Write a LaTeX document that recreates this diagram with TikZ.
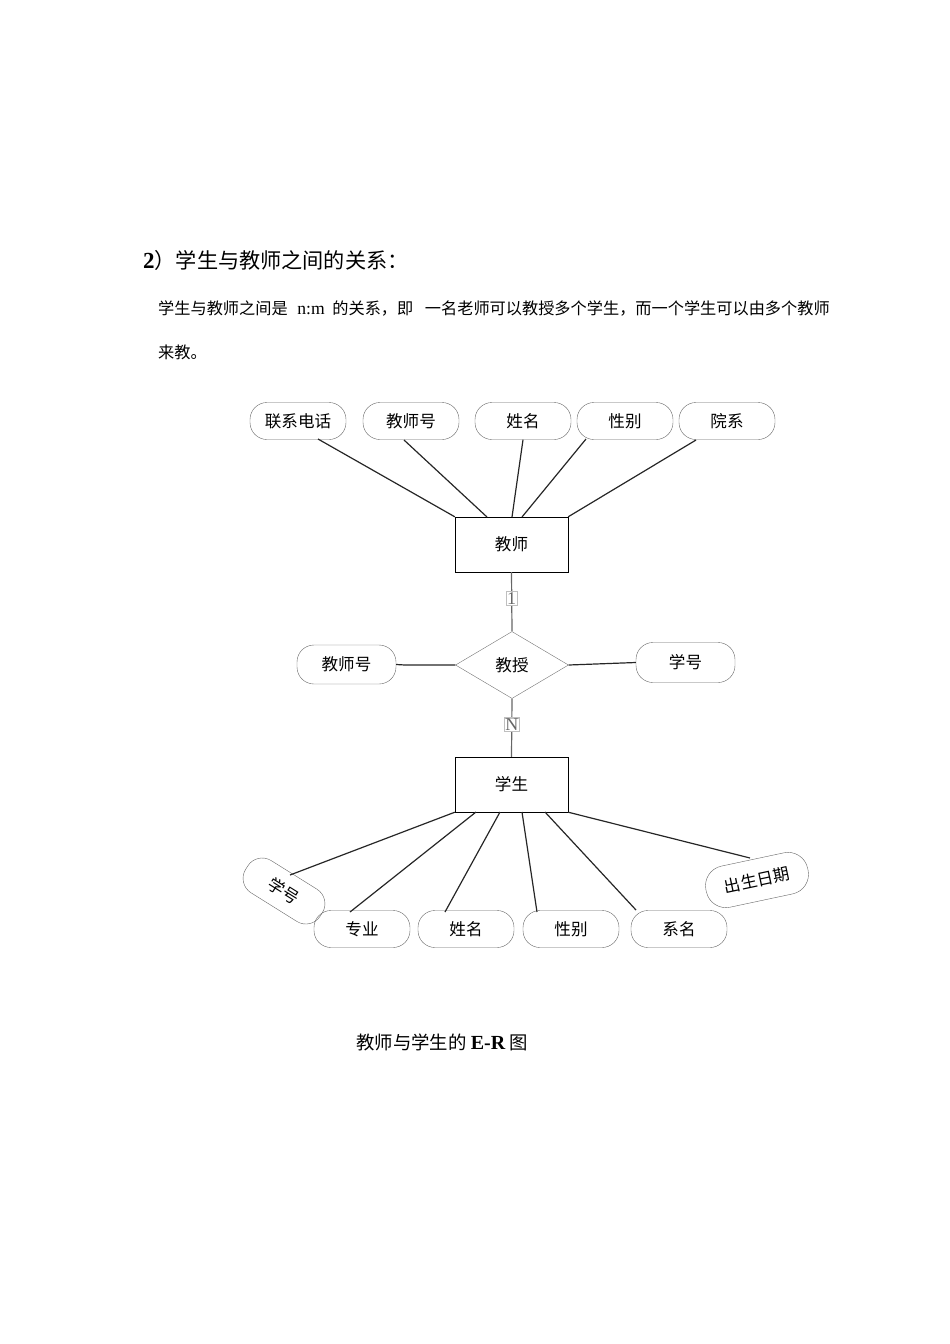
\documentclass[tikz,border=0pt]{standalone}
\usepackage{fontspec}
\setmainfont{Liberation Serif}
\newfontfamily\cjk{Noto Sans CJK SC}[Scale=0.92]
\usetikzlibrary{shapes.geometric}
\begin{document}
\begin{tikzpicture}[x=1pt,y=-1pt,
  attr/.style={draw=black!60,rounded corners=17pt,minimum width=96pt,minimum height=37pt,inner sep=0pt,font=\fontsize{18}{20}\cjk},
  ent/.style={draw,minimum width=113pt,minimum height=55pt,inner sep=0pt,font=\fontsize{18}{20}\cjk},
  rel/.style={draw=black!55,diamond,aspect=1.7,minimum width=113pt,minimum height=67pt,inner sep=0pt,font=\fontsize{18}{20}\cjk},
  card/.style={draw=black!25,fill=white,inner sep=1pt,font=\fontsize{18}{20}\selectfont},
  ln/.style={black!85,line width=1.2pt}]
\useasboundingbox (0,0) rectangle (950,1344);
\node[anchor=base west,font=\fontsize{23}{25}\selectfont,inner sep=0pt] (h) at (143,268) {\textbf{2}\cjk）学生与教师之间的关系：};
\node[anchor=base west,font=\fontsize{17.6}{19}\selectfont,inner sep=0pt] (p1) at (158,314) {\cjk 学生与教师之间是\hspace{6pt} {\rmfamily n:m}\hspace{4pt} 的关系，即\hspace{8pt} 一名老师可以教授多个学生，而一个学生可以由多个教师};
\node[anchor=base west,font=\fontsize{17.6}{19}\selectfont,inner sep=0pt] (p2) at (158,358) {\cjk 来教。};
\node[font=\fontsize{20}{22}\selectfont] (cap) at (442,1042) {\cjk 教师与学生的 {\rmfamily\bfseries E-R} \cjk 图};

\node[attr] (a1) at (298,421) {联系电话};
\node[attr] (a2) at (411,421) {教师号};
\node[attr] (a3) at (523,421) {姓名};
\node[attr] (a4) at (625,421) {性别};
\node[attr] (a5) at (727,421) {院系};
\node[ent] (t) at (511.5,544.5) {教师};
\node[rel] (r) at (512,665) {教授};
\node[attr,minimum width=99pt,minimum height=39pt] (l) at (346.5,664.5) {教师号};
\node[attr,minimum width=99pt,minimum height=40pt] (rr) at (685.5,662.5) {学号};
\node[ent] (s) at (511.5,784.5) {学生};
\node[attr] (b1) at (362,929) {专业};
\node[attr] (b2) at (466,929) {姓名};
\node[attr] (b3) at (571,929) {性别};
\node[attr] (b4) at (679,929) {系名};
\node[attr,rotate=-32,minimum width=88pt,minimum height=38pt] (b0) at (284,891) {学号};
\node[attr,rotate=12,minimum width=104pt,minimum height=42pt,rounded corners=20pt] (b5) at (757,880) {出生日期};

\draw[ln] (318,439) -- (t.north west);
\draw[ln] (404,440) -- (487,517);
\draw[ln] (a3.south) -- (512,517);
\draw[ln] (586,439) -- (522,517);
\draw[ln] (696,440) -- (t.north east);
\draw[ln,black!60] (t.south) -- (r.north) node[card,pos=0.45] (c1) {1};
\draw[ln,black!60] (r.south) -- (s.north) node[card,pos=0.45] (c2) {N};
\draw[ln] (l.east) -- (405,665) -- (r.west);
\draw[ln] (r.east) -- (rr.west);
\draw[ln] (s.south west) -- (290,875);
\draw[ln] (476,812) -- (350,912);
\draw[ln] (500,812) -- (445,912);
\draw[ln] (522,812) -- (537,912);
\draw[ln] (545,812) -- (636,910);
\draw[ln] (s.south east) -- (750,858);
\end{tikzpicture}
\end{document}
